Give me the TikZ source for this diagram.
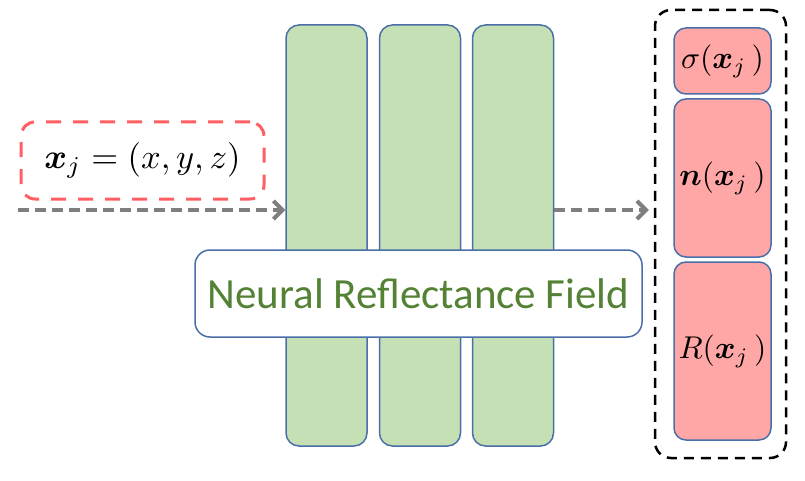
\documentclass[tikz,border=0pt]{standalone}
\usepackage{graphicx}
\usepackage{amsmath,bm}
\usepackage{fontspec}
\newfontfamily\calib{Carlito}
\usetikzlibrary{arrows.meta}
\definecolor{colgreen}{HTML}{C5E0B4}
\definecolor{bordblue}{HTML}{4A6FA8}
\definecolor{txtgreen}{HTML}{548235}
\definecolor{outred}{HTML}{FFA6A6}
\definecolor{dashred}{HTML}{FF5F62}
\definecolor{arrgray}{HTML}{7F7F7F}
\tikzset{
  layer/.style={draw=bordblue, fill=colgreen, line width=1.5pt, rounded corners=13pt,
    minimum width=81pt, minimum height=421pt, inner sep=0pt},
  outbox/.style={draw=bordblue, fill=outred, line width=1.5pt, rounded corners=12pt,
    minimum width=97pt, inner sep=0pt},
  flowarrow/.style={draw=arrgray, line width=4pt, dash pattern=on 11pt off 6pt,
    -{Straight Barb[length=9pt,width=18pt,line width=4pt]}},
}
\begin{document}
\begin{tikzpicture}[x=1pt,y=-1pt]
\useasboundingbox (0,0) rectangle (805,481);
% layers
\node[layer] (c1) at (326.5,235.5) {};
\node[layer] (c2) at (420,235.5) {};
\node[layer] (c3) at (513,235.5) {};
% label box
\node[draw=bordblue, fill=white, line width=1.5pt, rounded corners=15pt,
  minimum width=447pt, minimum height=87pt, inner sep=0pt,
  text=txtgreen, font=\calib\fontsize{43}{50}\selectfont] (nrf) at (418.5,293.5) {Neural Reflectance Field};
% input box
\node[draw=dashred, line width=3pt, dash pattern=on 15pt off 12pt, rounded corners=14pt,
  minimum width=243pt, minimum height=77pt, inner sep=0pt] (inp) at (142.5,160.5)
  {\scalebox{3.45}{$\bm{x}_j = (x, y, z)$}};
% output boxes
\node[outbox, minimum height=66pt] (sig) at (722.5,61) {\scalebox{3.15}{$\sigma(\bm{x}_j\,)$}};
\node[outbox, minimum height=158pt] (nrm) at (722.5,178) {\scalebox{3.15}{$\bm{n}(\bm{x}_j\,)$}};
\node[outbox, minimum height=178pt] (refl) at (722.5,351) {\scalebox{3.15}{$R(\bm{x}_j\,)$}};
% outer dashed box
\node[draw=black, line width=2.5pt, dash pattern=on 10pt off 7pt, rounded corners=16pt,
  minimum width=131pt, minimum height=448pt, inner sep=0pt] (outs) at (720.5,234) {};
% arrows
\coordinate (src) at (18,210);
\draw[flowarrow] (src) -- (c1.west |- src);
\draw[flowarrow, shorten >=5pt] (c3.east |- src) -- (outs.west |- src);
\end{tikzpicture}
\end{document}
